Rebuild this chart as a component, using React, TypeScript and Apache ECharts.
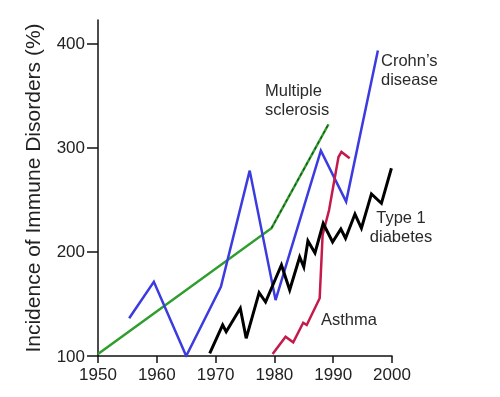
import React, { useEffect, useRef } from "react";
import * as echarts from "echarts";

const xTicks = [1950, 1960, 1970, 1980, 1990, 2000];
const yTicks = [100, 200, 300, 400];

const msYears = [1950, 1979.5, 1989.2];
const msValues = [102, 222.8, 322.8];

const crohnYears = [1955.3, 1959.5, 1965.0, 1970.9, 1975.8, 1980.2, 1987.9, 1992.2, 1997.6];
const crohnValues = [136.3, 171.4, 100, 166.6, 278.2, 153.8, 297.4, 248.4, 393.6];

const asthmaYears = [1979.7, 1981.9, 1983.2, 1984.9, 1985.5, 1987.7, 1988.2, 1989.3, 1990.2, 1990.9, 1991.4, 1992.8];
const asthmaValues = [101.9, 118.6, 113.2, 132, 129.8, 155.5, 216.3, 240.4, 269.2, 291.3, 296.2, 290.1];

const t1dYears = [1969.0, 1971.2, 1971.8, 1974.2, 1975.2, 1977.4, 1978.5, 1981.2, 1982.6, 1984.3, 1985.0, 1985.7, 1986.9, 1988.3, 1989.9, 1991.3, 1992.1, 1993.7, 1994.8, 1996.5, 1998.2, 1999.9];
const t1dValues = [102.6, 129.8, 123.4, 145.9, 117.0, 160.9, 151.9, 187.5, 163.5, 195.2, 185.6, 210.6, 199, 227.4, 209.6, 222.1, 213.2, 236.5, 222.8, 255.8, 246.8, 280.5];

const pairs = (xs: number[], ys: number[]) => xs.map((x, i) => [x, ys[i]]);

const FONT = "'Liberation Sans', Arial, Helvetica, sans-serif";

export default function App() {
  const ref = useRef<HTMLDivElement>(null);
  useEffect(() => {
    document.body.style.margin = "0";
    if (!ref.current) return;
    const chart = echarts.init(ref.current, null, { renderer: "svg" });
    const lineSeries = (name: string, data: number[][], color: string, width: number, extra: any = {}) => ({
      name,
      type: "line",
      data,
      showSymbol: false,
      symbol: "none",
      lineStyle: { color, width, join: "miter" },
      z: 3,
      ...extra,
    });
    const label = (text: string, x: number, y: number, align: string = "left") => ({
      type: "text",
      x,
      y,
      style: {
        text,
        fill: "#2a2a2a",
        fontSize: 16.5,
        fontFamily: FONT,
        lineHeight: 19,
        align,
        verticalAlign: "top",
      },
    });
    chart.setOption({
      animation: false,
      grid: { left: 98, right: 108, top: 20, bottom: 41 },
      xAxis: {
        type: "value",
        min: xTicks[0],
        max: xTicks[xTicks.length - 1],
        interval: 10,
        splitLine: { show: false },
        axisLine: { show: true, lineStyle: { color: "#111", width: 1.5 } },
        axisTick: { show: true, length: 7, lineStyle: { color: "#111", width: 1.5 } },
        axisLabel: { color: "#222", fontSize: 17, fontFamily: FONT, margin: 10, formatter: (v: number) => String(v) },
      },
      yAxis: {
        type: "value",
        min: 100,
        max: 423,
        splitLine: { show: false },
        axisLine: { show: true, lineStyle: { color: "#111", width: 1.5 } },
        axisTick: { show: true, length: 11, customValues: yTicks, lineStyle: { color: "#111", width: 1.5 } },
        axisLabel: { color: "#222", fontSize: 17, fontFamily: FONT, margin: 13, customValues: yTicks },
        name: "Incidence of Immune Disorders (%)",
        nameLocation: "middle",
        nameGap: 55,
        nameTextStyle: { color: "#222", fontSize: 21, fontFamily: FONT },
      },
      series: [
        lineSeries("Multiple sclerosis", pairs(msYears, msValues), "#2f9e2f", 2.5),
        lineSeries("Multiple sclerosis trend", pairs(msYears.slice(1), msValues.slice(1)), "#1a4d1a", 1.2, {
          lineStyle: { color: "#1a4d1a", width: 1.2, type: [3, 3] },
          z: 4,
        }),
        lineSeries("Crohn's disease", pairs(crohnYears, crohnValues), "#3b3be0", 2.5),
        lineSeries("Asthma", pairs(asthmaYears, asthmaValues), "#c41a4c", 2.5),
        lineSeries("Type 1 diabetes", pairs(t1dYears, t1dValues), "#000000", 3),
      ],
      graphic: [
        label("Multiple\nsclerosis", 265, 80),
        label("Crohn\u2019s\ndisease", 381, 50),
        label("Type 1\ndiabetes", 401, 207, "center"),
        label("Asthma", 321, 309),
      ],
    });
    return () => chart.dispose();
  }, []);
  return <div ref={ref} style={{ width: 500, height: 397, position: "fixed", left: 0, top: 0 }} />;
}
